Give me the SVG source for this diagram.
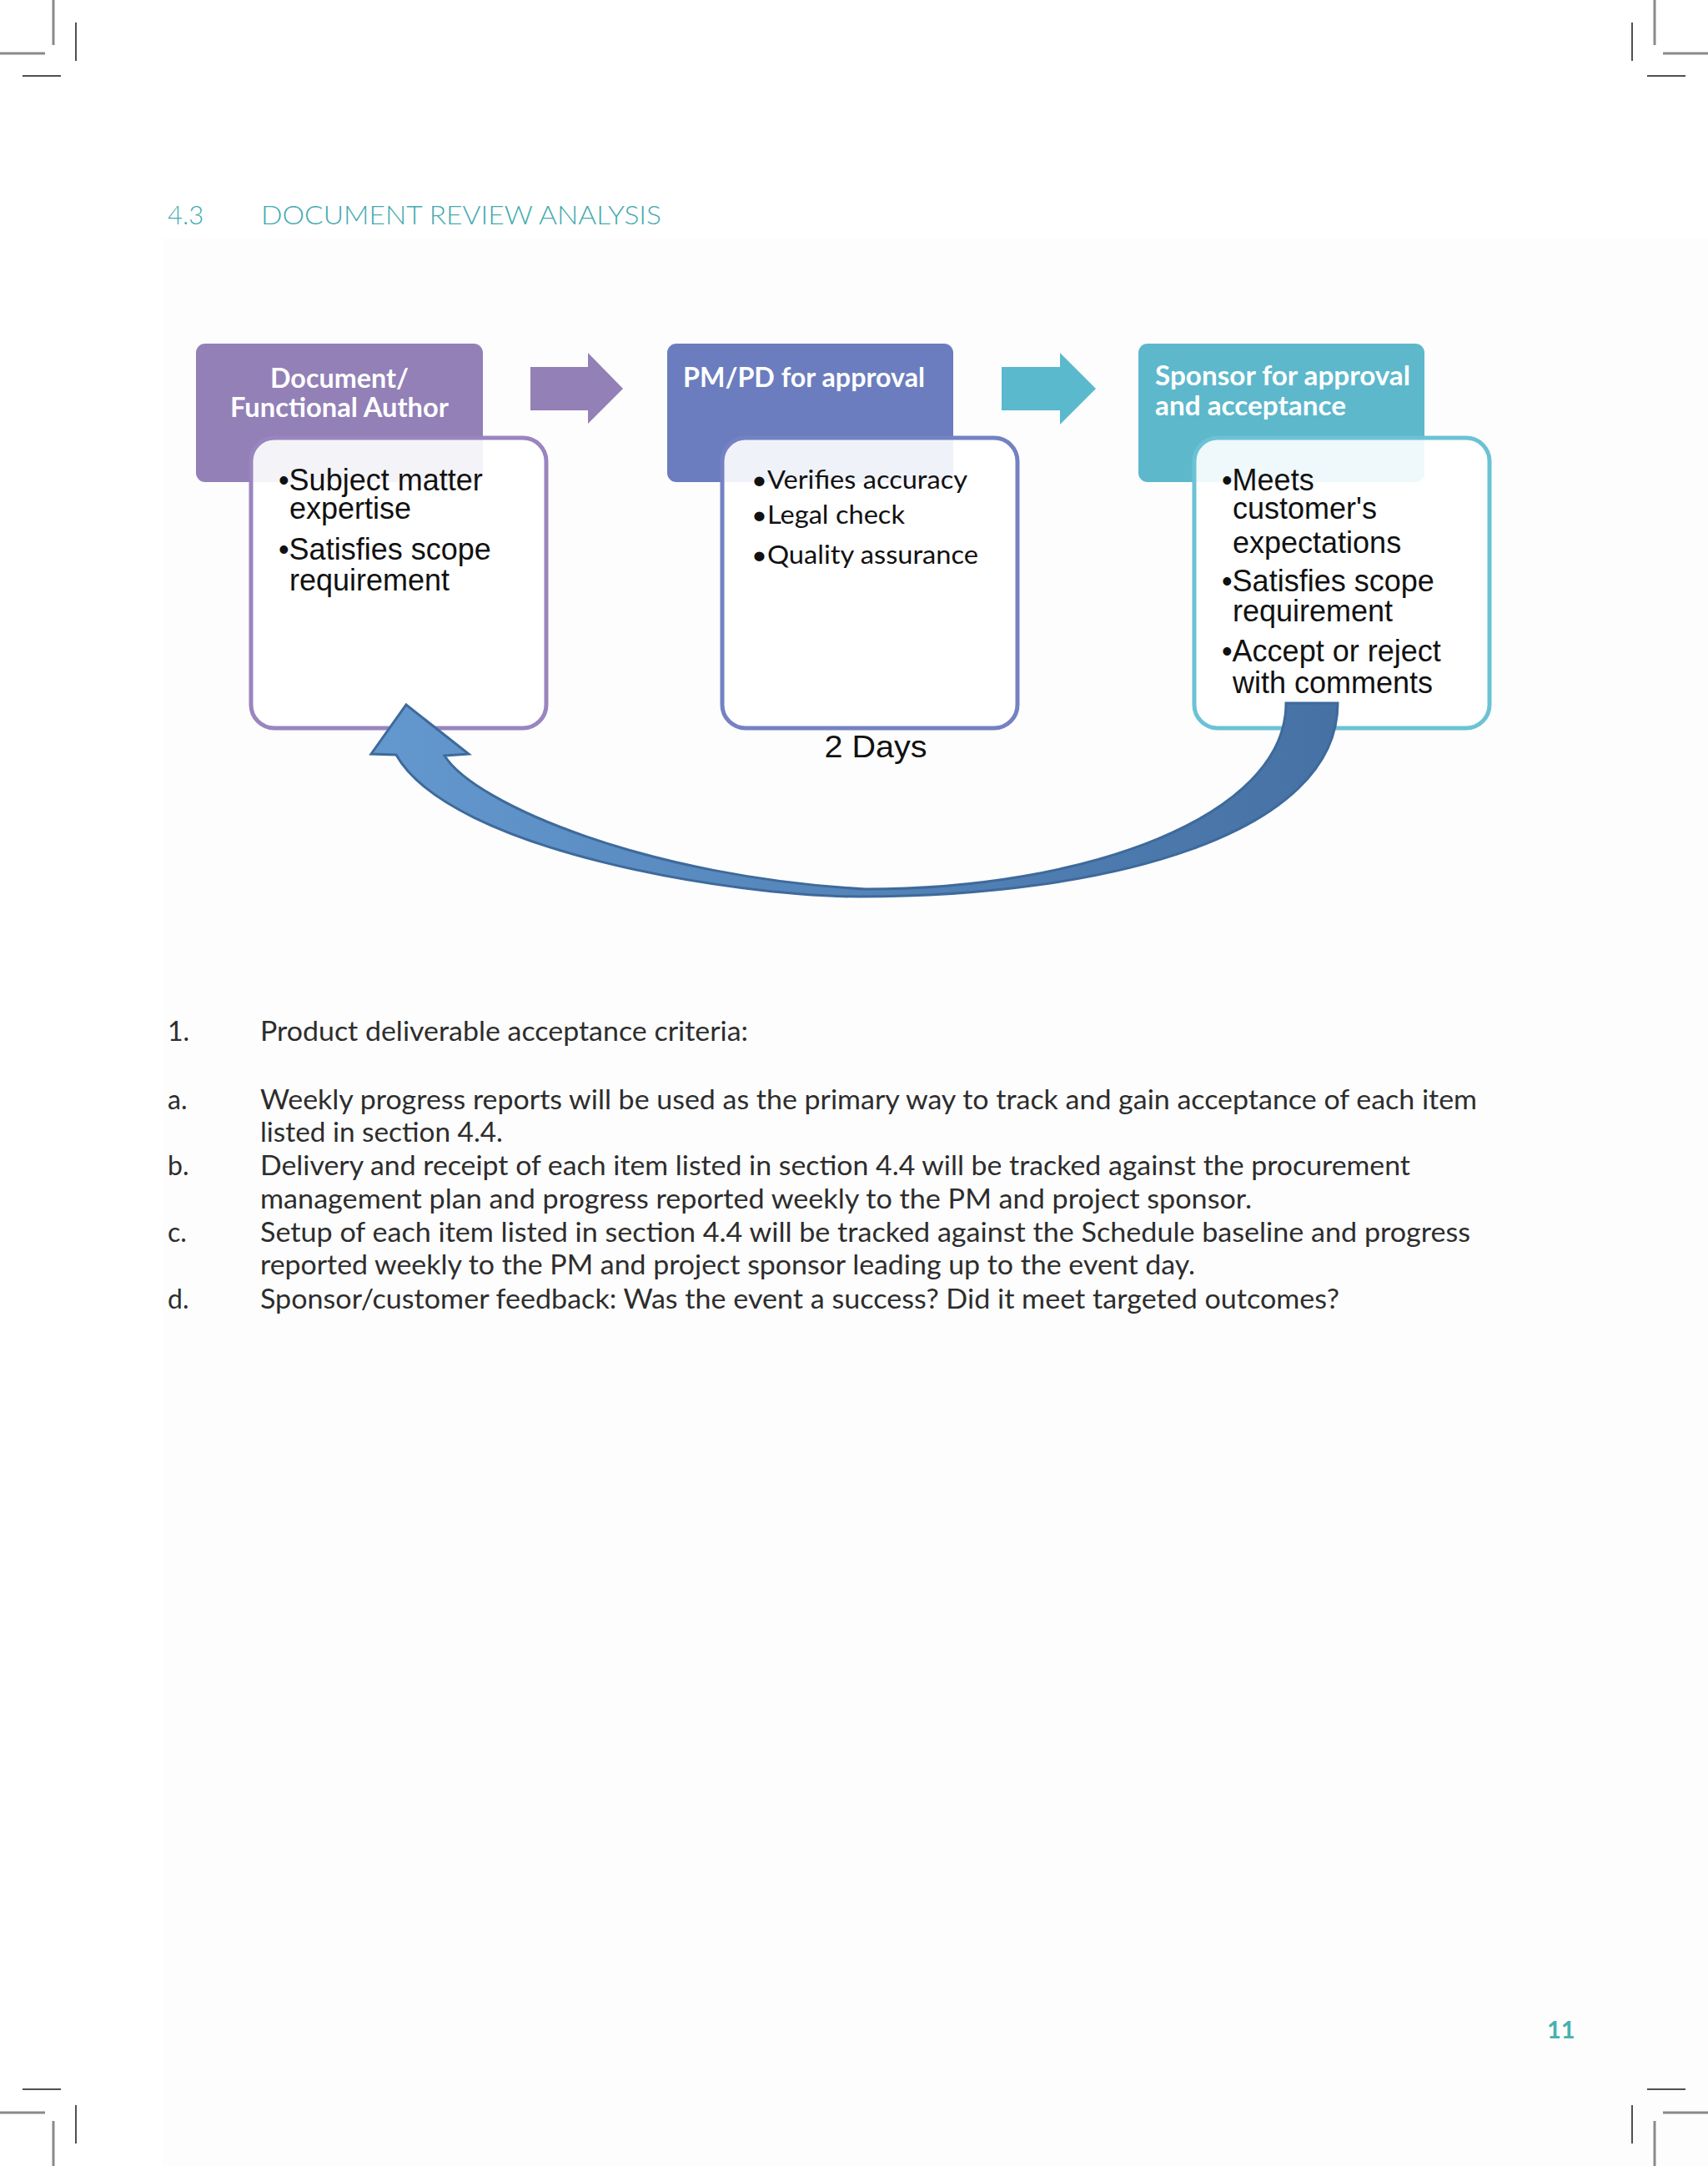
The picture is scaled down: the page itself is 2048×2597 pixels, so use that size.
<svg xmlns="http://www.w3.org/2000/svg" width="2048" height="2597" viewBox="0 0 2048 2597">
  <defs>
    <linearGradient id="loopGrad" x1="0" y1="0" x2="1" y2="0">
      <stop offset="0" stop-color="#6398ce"/>
      <stop offset="1" stop-color="#4671a4"/>
    </linearGradient>
    <style>
      .crop-g { stroke: #8a8a8a; stroke-width: 3; fill: none; }
      .crop-d { stroke: #505050; stroke-width: 2; fill: none; }
      .title { font-family: Lato, "Liberation Sans", sans-serif; font-weight: 300; font-size: 31px; fill: #44aab0; }
      .body { font-family: Lato, "Liberation Sans", sans-serif; font-weight: 400; font-size: 32px; fill: #2d2d2d; }
      .head { font-family: Lato, "Liberation Sans", sans-serif; font-weight: 700; font-size: 32px; fill: #ffffff; }
      .arial { font-family: "Liberation Sans", Arial, sans-serif; font-size: 36px; fill: #111111; }
      .cal { font-family: Lato, "Liberation Sans", sans-serif; font-size: 31px; fill: #111111; }
      .inner { fill: #ffffff; fill-opacity: 0.9; stroke-width: 5; }
      .pnum { font-family: Lato, "Liberation Sans", sans-serif; font-weight: 700; font-size: 29px; fill: #48b0ae; }
    </style>
  </defs>

  <rect x="0" y="0" width="2048" height="2597" fill="#ffffff"/>
  <rect x="195" y="285" width="1853" height="2312" fill="#fdfdfd"/>

  <!-- crop marks -->
  <g id="crop-marks">
    <line class="crop-g" x1="64" y1="0" x2="64" y2="54"/>
    <line class="crop-g" x1="0" y1="64" x2="54" y2="64"/>
    <line class="crop-d" x1="91" y1="27" x2="91" y2="73"/>
    <line class="crop-d" x1="27" y1="91" x2="73" y2="91"/>

    <line class="crop-g" x1="1984" y1="0" x2="1984" y2="54"/>
    <line class="crop-g" x1="1994" y1="64" x2="2048" y2="64"/>
    <line class="crop-d" x1="1957" y1="27" x2="1957" y2="73"/>
    <line class="crop-d" x1="1975" y1="91" x2="2021" y2="91"/>

    <line class="crop-g" x1="64" y1="2543" x2="64" y2="2597"/>
    <line class="crop-g" x1="0" y1="2533" x2="54" y2="2533"/>
    <line class="crop-d" x1="91" y1="2524" x2="91" y2="2570"/>
    <line class="crop-d" x1="27" y1="2505" x2="73" y2="2505"/>

    <line class="crop-g" x1="1984" y1="2543" x2="1984" y2="2597"/>
    <line class="crop-g" x1="1994" y1="2533" x2="2048" y2="2533"/>
    <line class="crop-d" x1="1957" y1="2524" x2="1957" y2="2570"/>
    <line class="crop-d" x1="1975" y1="2505" x2="2021" y2="2505"/>
  </g>

  <!-- title -->
  <text class="title" x="201" y="269">4.3</text>
  <text class="title" x="313" y="269" textLength="480" lengthAdjust="spacingAndGlyphs">DOCUMENT REVIEW ANALYSIS</text>

  <!-- node 1 -->
  <g id="node-author">
    <rect x="235" y="412" width="344" height="166" rx="11" fill="#9280b7"/>
    <text class="head" x="407" y="465" text-anchor="middle" textLength="166" lengthAdjust="spacingAndGlyphs">Document/</text>
    <text class="head" x="407" y="500" text-anchor="middle" textLength="262" lengthAdjust="spacingAndGlyphs">Functional Author</text>
    <rect class="inner" x="301" y="525" width="354" height="348" rx="28" stroke="#9985bf"/>
    <text class="arial" x="334" y="588">•Subject matter</text>
    <text class="arial" x="347" y="622">expertise</text>
    <text class="arial" x="334" y="671">•Satisfies scope</text>
    <text class="arial" x="347" y="708">requirement</text>
  </g>

  <!-- node 2 -->
  <g id="node-pmpd">
    <rect x="800" y="412" width="343" height="166" rx="11" fill="#6b7dbe"/>
    <text class="head" x="819" y="464" textLength="290" lengthAdjust="spacingAndGlyphs">PM/PD for approval</text>
    <rect class="inner" x="866" y="525" width="354" height="348" rx="28" stroke="#7482c3"/>
    <text class="cal" x="901" y="586" textLength="259" lengthAdjust="spacingAndGlyphs">•Verifies accuracy</text>
    <text class="cal" x="901" y="628" textLength="184" lengthAdjust="spacingAndGlyphs">•Legal check</text>
    <text class="cal" x="901" y="676" textLength="272" lengthAdjust="spacingAndGlyphs">•Quality assurance</text>
    <text class="arial" x="1050" y="908" text-anchor="middle" font-size="38" textLength="123" lengthAdjust="spacingAndGlyphs">2 Days</text>
  </g>

  <!-- node 3 -->
  <g id="node-sponsor">
    <rect x="1365" y="412" width="343" height="166" rx="11" fill="#5db8cc"/>
    <text class="head" x="1385" y="462" textLength="306" lengthAdjust="spacingAndGlyphs">Sponsor for approval</text>
    <text class="head" x="1385" y="498" textLength="229" lengthAdjust="spacingAndGlyphs">and acceptance</text>
    <rect class="inner" x="1432" y="525" width="354" height="348" rx="28" stroke="#6cc2d5"/>
    <text class="arial" x="1465" y="588">•Meets</text>
    <text class="arial" x="1478" y="622">customer's</text>
    <text class="arial" x="1478" y="663">expectations</text>
    <text class="arial" x="1465" y="709">•Satisfies scope</text>
    <text class="arial" x="1478" y="745">requirement</text>
    <text class="arial" x="1465" y="793">•Accept or reject</text>
    <text class="arial" x="1478" y="831">with comments</text>
  </g>

  <!-- connectors -->
  <g id="connectors">
    <polygon points="636,440 705,440 705,423 747,466 705,508 705,492 636,492" fill="#9280b7"/>
    <polygon points="1201,440 1271,440 1271,423 1314,466 1271,509 1271,492 1201,492" fill="#5ab9cc"/>
    <path d="M1542,843 L1604,843 C1604,1000 1330,1075 1030,1075 C880,1075 540,1020 475,905 L445,904 L487,845 L562,904 L533,906 C570,965 780,1052 1038,1066 C1300,1066 1542,980 1542,843 Z" fill="url(#loopGrad)" stroke="#3e6a9b" stroke-width="3" stroke-linejoin="miter"/>
  </g>

  <!-- body text -->
  <g id="body-text">
    <text class="body" x="201" y="1248">1.</text>
    <text class="body" x="312" y="1248" textLength="585" lengthAdjust="spacingAndGlyphs">Product deliverable acceptance criteria:</text>
    <text class="body" x="201" y="1330">a.</text>
    <text class="body" x="312" y="1330" textLength="1459" lengthAdjust="spacingAndGlyphs">Weekly progress reports will be used as the primary way to track and gain acceptance of each item</text>
    <text class="body" x="312" y="1369" textLength="291" lengthAdjust="spacingAndGlyphs">listed in section 4.4.</text>
    <text class="body" x="201" y="1409">b.</text>
    <text class="body" x="312" y="1409" textLength="1379" lengthAdjust="spacingAndGlyphs">Delivery and receipt of each item listed in section 4.4 will be tracked against the procurement</text>
    <text class="body" x="312" y="1449" textLength="1189" lengthAdjust="spacingAndGlyphs">management plan and progress reported weekly to the PM and project sponsor.</text>
    <text class="body" x="201" y="1489">c.</text>
    <text class="body" x="312" y="1489" textLength="1451" lengthAdjust="spacingAndGlyphs">Setup of each item listed in section 4.4 will be tracked against the Schedule baseline and progress</text>
    <text class="body" x="312" y="1528" textLength="1121" lengthAdjust="spacingAndGlyphs">reported weekly to the PM and project sponsor leading up to the event day.</text>
    <text class="body" x="201" y="1569">d.</text>
    <text class="body" x="312" y="1569" textLength="1294" lengthAdjust="spacingAndGlyphs">Sponsor/customer feedback: Was the event a success? Did it meet targeted outcomes?</text>
  </g>

  <text class="pnum" x="1855" y="2444">11</text>
</svg>
